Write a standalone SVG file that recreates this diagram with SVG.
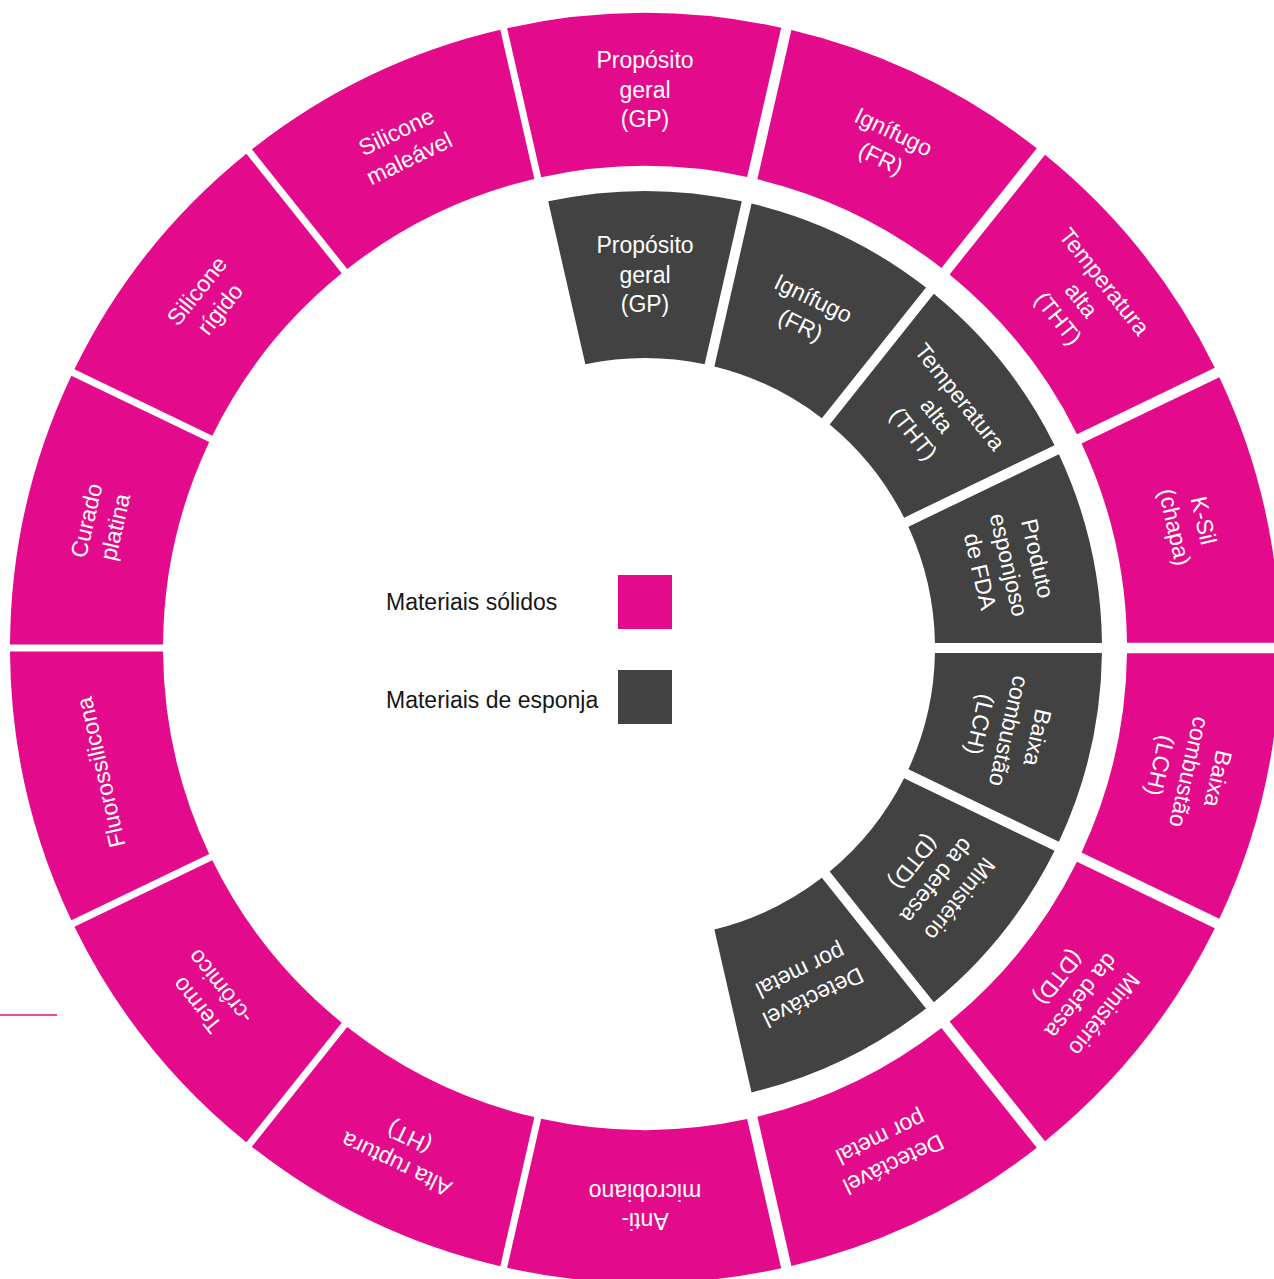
<svg xmlns="http://www.w3.org/2000/svg" xmlns:xlink="http://www.w3.org/1999/xlink" width="1274" height="1279" viewBox="0 0 1274 1279">
<style>
.solid{fill:#E30B8C}
.sponge{fill:#424242}
.lbl{font-family:"Liberation Sans",Arial,Helvetica,sans-serif;font-size:23px;fill:#ffffff;text-anchor:middle}
.leg{font-family:"Liberation Sans",Arial,Helvetica,sans-serif;font-size:23px;fill:#161616}
</style>
<defs>
<path id="outR" d="M -136.18 -620.22 A 635 635 0 0 1 136.18 -620.22 L 102.13 -471.05 A 482 482 0 0 0 -102.13 -471.05 Z"/>
<path id="outL" d="M -137.88 -619.85 A 635 635 0 0 1 137.88 -619.85 L 103.84 -470.68 A 482 482 0 0 0 -103.84 -470.68 Z"/>
<path id="outTop" d="M -137.88 -619.85 A 635 635 0 0 1 136.18 -620.22 L 102.13 -471.05 A 482 482 0 0 0 -103.84 -470.68 Z"/>
<path id="outBot" d="M -136.18 -620.22 A 635 635 0 0 1 137.88 -619.85 L 103.84 -470.68 A 482 482 0 0 0 -102.13 -471.05 Z"/>
<path id="inn" d="M -96.81 -446.63 A 457 457 0 0 1 96.81 -446.63 L 59.65 -283.80 A 290 290 0 0 0 -59.65 -283.80 Z"/>
</defs>
<rect x="0" y="0" width="1274" height="1279" fill="#ffffff"/>

<!-- outer ring: solid materials -->
<g id="o-gp" transform="translate(645 648) rotate(0)"><use xlink:href="#outTop" href="#outTop" class="solid"/><text class="lbl"><tspan x="0" y="-579.8">Propósito</tspan><tspan x="0" y="-550.3">geral</tspan><tspan x="0" y="-520.8">(GP)</tspan></text></g>
<g id="o-fr" transform="translate(645 648) rotate(25.7143)"><use xlink:href="#outR" href="#outR" class="solid"/><text class="lbl"><tspan x="0" y="-565.05">Ignífugo</tspan><tspan x="0" y="-535.55">(FR)</tspan></text></g>
<g id="o-tht" transform="translate(645 648) rotate(51.4286)"><use xlink:href="#outR" href="#outR" class="solid"/><text class="lbl"><tspan x="0" y="-579.8">Temperatura</tspan><tspan x="0" y="-550.3">alta</tspan><tspan x="0" y="-520.8">(THT)</tspan></text></g>
<g id="o-ksil" transform="translate(645 648) rotate(77.1429)"><use xlink:href="#outR" href="#outR" class="solid"/><text class="lbl"><tspan x="0" y="-565.05">K-Sil</tspan><tspan x="0" y="-535.55">(chapa)</tspan></text></g>
<g id="o-lch" transform="translate(645 648) rotate(102.8571)"><use xlink:href="#outR" href="#outR" class="solid"/><text class="lbl"><tspan x="0" y="-579.8">Baixa</tspan><tspan x="0" y="-550.3">combustão</tspan><tspan x="0" y="-520.8">(LCH)</tspan></text></g>
<g id="o-dtd" transform="translate(645 648) rotate(128.5714)"><use xlink:href="#outR" href="#outR" class="solid"/><text class="lbl"><tspan x="0" y="-579.8">Ministério</tspan><tspan x="0" y="-550.3">da defesa</tspan><tspan x="0" y="-520.8">(DTD)</tspan></text></g>
<g id="o-metal" transform="translate(645 648) rotate(154.2857)"><use xlink:href="#outR" href="#outR" class="solid"/><text class="lbl"><tspan x="0" y="-565.05">Detectável</tspan><tspan x="0" y="-535.55">por metal</tspan></text></g>
<g id="o-anti" transform="translate(645 648) rotate(180)"><use xlink:href="#outBot" href="#outBot" class="solid"/><text class="lbl"><tspan x="0" y="-565.05">Anti-</tspan><tspan x="0" y="-535.55">microbiano</tspan></text></g>
<g id="o-ht" transform="translate(645 648) rotate(205.7143)"><use xlink:href="#outL" href="#outL" class="solid"/><text class="lbl"><tspan x="0" y="-565.05">Alta ruptura</tspan><tspan x="0" y="-535.55">(HT)</tspan></text></g>
<g id="o-termo" transform="translate(645 648) rotate(231.4286)"><use xlink:href="#outL" href="#outL" class="solid"/><text class="lbl"><tspan x="0" y="-565.05">Termo</tspan><tspan x="0" y="-535.55">-crômico</tspan></text></g>
<g id="o-fluoro" transform="translate(645 648) rotate(257.1429)"><use xlink:href="#outL" href="#outL" class="solid"/><text class="lbl"><tspan x="0" y="-550.3">Fluorossilicona</tspan></text></g>
<g id="o-platina" transform="translate(645 648) rotate(282.8571)"><use xlink:href="#outL" href="#outL" class="solid"/><text class="lbl"><tspan x="0" y="-565.05">Curado</tspan><tspan x="0" y="-535.55">platina</tspan></text></g>
<g id="o-rigido" transform="translate(645 648) rotate(308.5714)"><use xlink:href="#outL" href="#outL" class="solid"/><text class="lbl"><tspan x="0" y="-565.05">Silicone</tspan><tspan x="0" y="-535.55">rígido</tspan></text></g>
<g id="o-maleavel" transform="translate(645 648) rotate(334.2857)"><use xlink:href="#outL" href="#outL" class="solid"/><text class="lbl"><tspan x="0" y="-565.05">Silicone</tspan><tspan x="0" y="-535.55">maleável</tspan></text></g>

<!-- inner ring: sponge materials -->
<g id="i-gp" transform="translate(645 648) rotate(0)"><use xlink:href="#inn" href="#inn" class="sponge"/><text class="lbl"><tspan x="0" y="-394.8">Propósito</tspan><tspan x="0" y="-365.3">geral</tspan><tspan x="0" y="-335.8">(GP)</tspan></text></g>
<g id="i-fr" transform="translate(645 648) rotate(25.7143)"><use xlink:href="#inn" href="#inn" class="sponge"/><text class="lbl"><tspan x="0" y="-380.05">Ignífugo</tspan><tspan x="0" y="-350.55">(FR)</tspan></text></g>
<g id="i-tht" transform="translate(645 648) rotate(51.4286)"><use xlink:href="#inn" href="#inn" class="sponge"/><text class="lbl"><tspan x="0" y="-394.8">Temperatura</tspan><tspan x="0" y="-365.3">alta</tspan><tspan x="0" y="-335.8">(THT)</tspan></text></g>
<g id="i-fda" transform="translate(645 648) rotate(77.1429)"><use xlink:href="#inn" href="#inn" class="sponge"/><text class="lbl"><tspan x="0" y="-394.8">Produto</tspan><tspan x="0" y="-365.3">esponjoso</tspan><tspan x="0" y="-335.8">de FDA</tspan></text></g>
<g id="i-lch" transform="translate(645 648) rotate(102.8571)"><use xlink:href="#inn" href="#inn" class="sponge"/><text class="lbl"><tspan x="0" y="-394.8">Baixa</tspan><tspan x="0" y="-365.3">combustão</tspan><tspan x="0" y="-335.8">(LCH)</tspan></text></g>
<g id="i-dtd" transform="translate(645 648) rotate(128.5714)"><use xlink:href="#inn" href="#inn" class="sponge"/><text class="lbl"><tspan x="0" y="-394.8">Ministério</tspan><tspan x="0" y="-365.3">da defesa</tspan><tspan x="0" y="-335.8">(DTD)</tspan></text></g>
<g id="i-metal" transform="translate(645 648) rotate(154.2857)"><use xlink:href="#inn" href="#inn" class="sponge"/><text class="lbl"><tspan x="0" y="-380.05">Detectável</tspan><tspan x="0" y="-350.55">por metal</tspan></text></g>

<!-- legend -->
<g id="legend-solid"><text class="leg" x="386" y="610">Materiais sólidos</text><rect class="solid" x="618" y="575" width="54" height="54"/></g>
<g id="legend-sponge"><text class="leg" x="386" y="708">Materiais de esponja</text><rect class="sponge" x="618" y="670" width="54" height="54"/></g>

<g id="connectors"><line x1="0" y1="1015" x2="57" y2="1015" stroke="#E8489F" stroke-width="2"/></g>
</svg>
